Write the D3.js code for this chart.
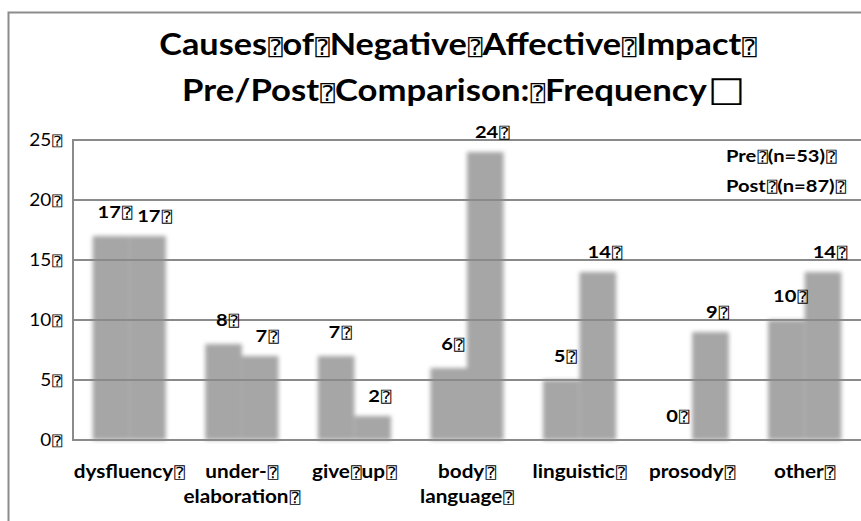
<!DOCTYPE html>
<html>
<head>
<meta charset="utf-8">
<script src="https://cdn.jsdelivr.net/npm/d3@7/dist/d3.min.js"></script>
<style>
  html, body { margin: 0; padding: 0; background: #fff; }
  svg { display: block; }
  text { font-family: Lato, "Open Sans", sans-serif; fill: #000; }
</style>
</head>
<body>
<svg id="chart" width="861" height="521"></svg>
<script>
// ---- data ----
const categoryLines = [["dysfluency"], ["under-", "elaboration"], ["give up"], ["body", "language"], ["linguistic"], ["prosody"], ["other"]];
const categories = categoryLines.map(l => l.join(" "));
const preValues = [17, 8, 7, 6, 5, 0, 10];
const postValues = [17, 7, 2, 24, 14, 9, 14];
const yTicks = [0, 5, 10, 15, 20, 25];
const titleLines = ["Causes of Negative Affective Impact", "Pre/Post Comparison: Frequency"];
const legendLabels = ["Pre (n=53)", "Post (n=87)"];

// ---- layout ----
const W = 861, H = 521;
const svg = d3.select("#chart");
const TOFU = "\u2370";
const SX = 1.15; // horizontal stretch of the original text

svg.append("rect").attr("width", W).attr("height", H).attr("fill", "#fff");
svg.append("rect").attr("x", 8.5).attr("y", 12.5).attr("width", W + 20).attr("height", H + 20)
  .attr("fill", "none").attr("stroke", "#8c8c8c").attr("stroke-width", 2);

const defs = svg.append("defs");
const f = defs.append("filter").attr("id", "soft").attr("x", "-30%").attr("y", "-10%").attr("width", "160%").attr("height", "120%");
f.append("feGaussianBlur").attr("stdDeviation", 2);

const x = d3.scaleBand().domain(categories).range([73, W]).paddingInner(0.35).paddingOuter(0.175);
const x1 = d3.scaleBand().domain(["pre", "post"]).range([0, x.bandwidth()]);
const y = d3.scaleLinear().domain([0, 25]).range([440, 140]);

// text helper: appends text with tofu boxes for spaces / line ends
function tofuText(g, str, opts) {
  const t = g.append("text")
    .attr("transform", `translate(${opts.x},${opts.y}) scale(${opts.sx || SX},1)`)
    .attr("text-anchor", opts.anchor || "start")
    .style("font-size", opts.size + "px")
    .style("font-weight", opts.weight || "normal");
  const parts = str.split(" ");
  const ts = opts.size * (opts.tofu || 0.85);
  parts.forEach((p, i) => {
    t.append("tspan").text(p);
    if (i < parts.length - 1 || opts.trail !== false) {
      t.append("tspan").text(TOFU)
        .attr("dx", 1)
        .style("font-family", "'DejaVu Sans Mono'")
        .style("font-weight", "normal")
        .style("font-size", ts + "px");
    }
  });
  return t;
}

// bars
const groups = svg.append("g").attr("filter", "url(#soft)");
categories.forEach((c, i) => {
  [["pre", preValues[i]], ["post", postValues[i]]].forEach(([s, v]) => {
    groups.append("rect")
      .attr("x", x(c) + x1(s))
      .attr("width", x1.bandwidth())
      .attr("y", y(v))
      .attr("height", y(0) - y(v))
      .attr("fill", "#a6a6a6");
  });
});

// gridlines (drawn over bars)
const grid = svg.append("g");
yTicks.forEach(t => {
  grid.append("line").attr("x1", 73).attr("x2", W).attr("y1", y(t)).attr("y2", y(t))
    .attr("stroke", "#8a8a8a").attr("stroke-width", 2);
});
grid.append("line").attr("x1", 73).attr("x2", 73).attr("y1", y(25) - 1).attr("y2", y(0) + 1)
  .attr("stroke", "#8a8a8a").attr("stroke-width", 2);

// y tick labels
const yl = svg.append("g");
yTicks.forEach(t => {
  tofuText(yl, String(t), { x: 62, y: y(t) + 6, anchor: "end", size: 16.5 });
});

// value labels
const vl = svg.append("g");
categories.forEach((c, i) => {
  tofuText(vl, String(preValues[i]), { x: x(c) + x1("pre") + x1.bandwidth() / 2 + 4, y: y(preValues[i]) - 18.5, anchor: "middle", size: 17.5, weight: "bold" });
  tofuText(vl, String(postValues[i]), { x: x(c) + x1("post") + x1.bandwidth() / 2 + 7, y: y(postValues[i]) - 14, anchor: "middle", size: 17.5, weight: "bold" });
});

// category labels
const cl = svg.append("g");
categoryLines.forEach((lines, i) => {
  const cx = x(categories[i]) + x.bandwidth() / 2;
  lines.forEach((ln, j) => {
    tofuText(cl, ln, { x: cx, y: 478 + j * 25, anchor: "middle", size: 18, weight: "bold" });
  });
});

// legend (text only)
const lg = svg.append("g");
legendLabels.forEach((l, i) => {
  tofuText(lg, l, { x: 726, y: 162 + i * 30, anchor: "start", size: 17.5, weight: "bold" });
});

// title
const tg = svg.append("g");
tofuText(tg, titleLines[0], { x: 458, y: 55, anchor: "middle", size: 31, weight: "bold", tofu: 0.7, sx: 1.105 });
const t2 = tofuText(tg, titleLines[1], { x: 463.5, y: 101, anchor: "middle", size: 31, weight: "bold", trail: false, tofu: 0.7, sx: 1.12 });
t2.append("tspan").text("\u25A1").style("font-family", "'DejaVu Sans'").style("font-weight", "bold").style("font-size", "35px").attr("dx", 1);
</script>
</body>
</html>
